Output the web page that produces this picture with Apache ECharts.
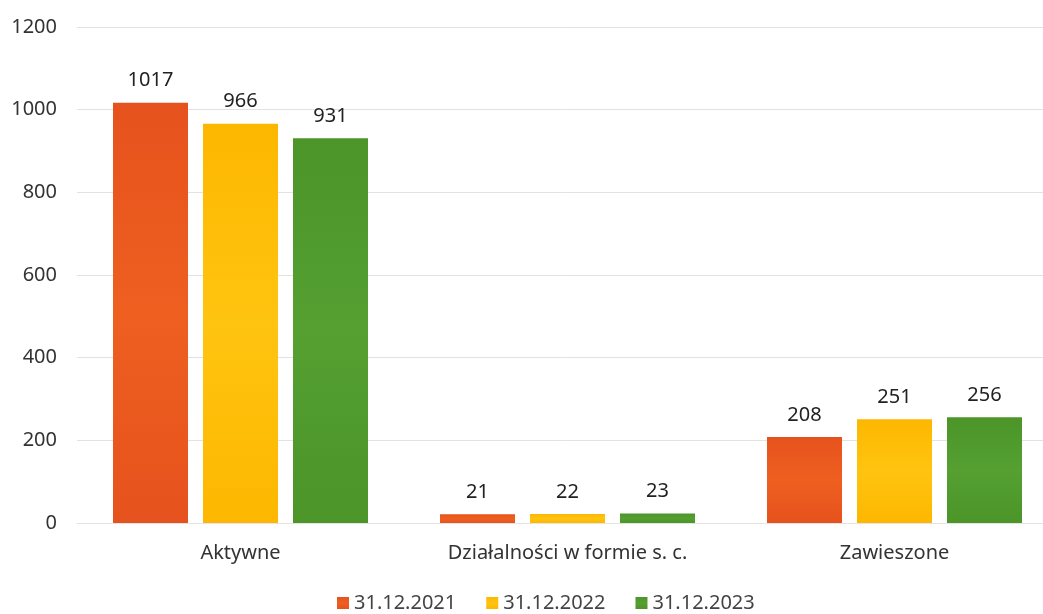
<!DOCTYPE html>
<html><head><meta charset="utf-8">
<script src="https://cdn.jsdelivr.net/npm/echarts@6/dist/echarts.min.js"></script>
<style>html,body{margin:0;padding:0;background:#fff;overflow:hidden}#c{width:1060px;height:614px}</style>
</head><body><div id="c"></div>
<script>
const categories = ["Aktywne", "Działalności w formie s. c.", "Zawieszone"];
const seriesNames = ["31.12.2021", "31.12.2022", "31.12.2023"];
const values2021 = [1017, 21, 208];
const values2022 = [966, 22, 251];
const values2023 = [931, 23, 256];
const yTicks = [0, 200, 400, 600, 800, 1000, 1200];

const colors = [
  ["#E6521D", "#EE5F20"],
  ["#FDB700", "#FFC410"],
  ["#4B9529", "#55A031"]
];
const FONT = "Noto Sans";
function mk(name, data, i) {
  return {
    name: name, type: "bar", data: data,
    barWidth: 75, barGap: "20%",
    itemStyle: { color: new echarts.graphic.LinearGradient(0,0,0,1,[{offset:0,color:colors[i][0]},{offset:0.5,color:colors[i][1]},{offset:1,color:colors[i][0]}]) },
    label: { show: true, position: "top", distance: 12, fontFamily: FONT, fontSize: 20, color: "#222" }
  };
}
const chart = echarts.init(document.getElementById("c"));
chart.setOption({
  animation: false,
  color: colors.map(c => c[1]),
  textStyle: { fontFamily: FONT },
  grid: { left: 77, right: 2, top: 27, bottom: 91 },
  legend: {
    bottom: -4, left: 332, itemWidth: 12, itemHeight: 12, itemGap: 30,
    icon: "rect",
    textStyle: { fontFamily: FONT, fontSize: 20, color: "#444" },
    data: seriesNames
  },
  xAxis: {
    type: "category", data: categories,
    axisLine: { show: true, lineStyle: { color: "#e4e4e4" } },
    axisTick: { show: false },
    axisLabel: { fontFamily: FONT, fontSize: 20, color: "#333", margin: 20 }
  },
  yAxis: {
    type: "value", min: 0, max: 1200, interval: 200,
    axisLine: { show: false }, axisTick: { show: false },
    splitLine: { lineStyle: { color: "#e2e2e2" } },
    axisLabel: { fontFamily: FONT, fontSize: 20, color: "#333", margin: 20,
      formatter: v => yTicks.includes(v) ? String(v) : "" }
  },
  series: [mk(seriesNames[0], values2021, 0), mk(seriesNames[1], values2022, 1), mk(seriesNames[2], values2023, 2)]
});
</script></body></html>
